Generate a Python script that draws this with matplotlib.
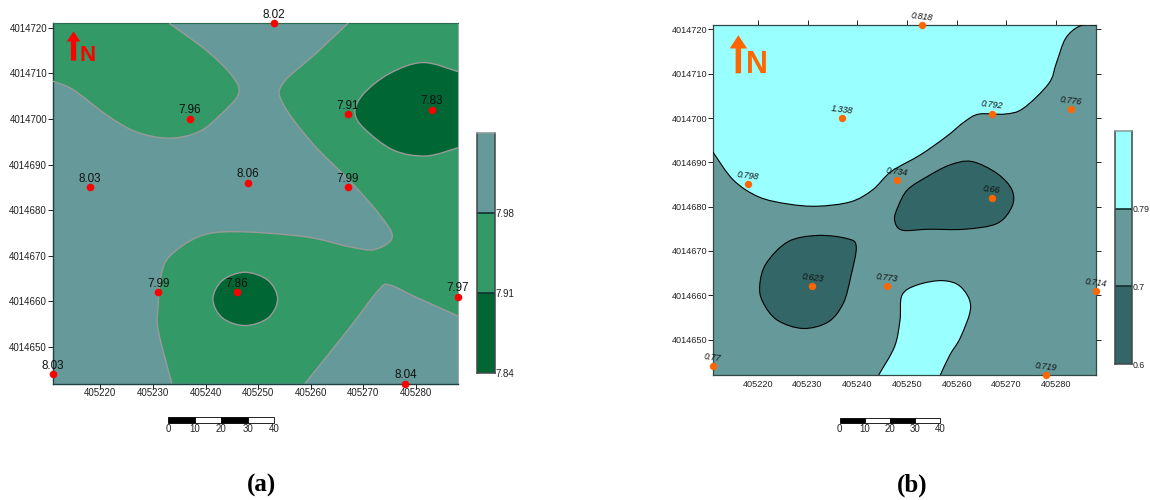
import matplotlib
matplotlib.use("Agg")
import matplotlib.pyplot as plt
import numpy as np
from matplotlib.path import Path
from matplotlib.patches import PathPatch, FancyArrow

plt.rcParams['font.family'] = ['Liberation Sans', 'DejaVu Sans']

X0, Y0 = 405000, 4014000
XLIM = (211, 288)
YLIM = (642, 721)
x_ticks = [405220, 405230, 405240, 405250, 405260, 405270, 405280]
y_ticks = [4014650, 4014660, 4014670, 4014680, 4014690, 4014700, 4014710, 4014720]

# sample points
a_x = [218, 237, 248, 253, 267, 267, 283, 231, 246, 288, 211, 278]
a_y = [685, 700, 686, 721, 701, 685, 702, 662, 662, 661, 644, 642]
a_labels = ['8.03', '7.96', '8.06', '8.02', '7.91', '7.99', '7.83', '7.99', '7.86', '7.97', '8.03', '8.04']

b_x = [218, 237, 248, 253, 267, 267, 283, 231, 246, 288, 211, 278]
b_y = [685, 700, 686, 721, 701, 682, 702, 662, 662, 661, 644, 642]
b_labels = ['0.798', '1.338', '0.734', '0.818', '0.792', '0.66', '0.776', '0.623', '0.773', '0.714', '0.77', '0.719']

# contour boundaries (offset from X0, Y0)
a_g1 = [(211, 708.3), (214.9, 706.4), (221.2, 700.9), (226.8, 697.2), (233.1, 695.8), (238.7, 697.2),
        (242.8, 700.9), (246.3, 705.6), (244.9, 709.7), (240.1, 715.1), (233.1, 721)]
a_g1_corners = [(211, 721)]
a_g2_top = [(267.1, 721), (261, 714.4), (254.7, 707.8), (254.7, 703.4), (260.3, 694.7), (267.3, 686.6),
            (272.9, 679.3), (275.5, 674.2), (272.2, 671.4), (267.3, 672), (258.9, 674.2), (245.6, 675.3),
            (238.7, 674.2), (233.1, 669.8), (231.5, 665.4), (231, 659.2), (231, 653.7), (233.6, 642)]
a_g2_low = [(258.9, 642), (267.3, 654.1), (272.9, 662.5), (275, 663.6), (279.9, 661), (288, 656.8)]
a_g2_corners = [(288, 721)]
a_d1 = [(288, 710.4), (281.3, 712.4), (275, 710), (270.1, 705.6), (268.4, 701.6), (270.1, 698),
        (275.7, 693.2), (281.9, 691.9), (288, 693.7)]
a_d2 = [(253.7, 660.5), (251.9, 664.6), (247.5, 666.4), (243.2, 664.6), (241.4, 660.5), (243.2, 656.4),
        (247.5, 654.7), (251.9, 656.4)]

b_c1 = [(211, 692.3), (215.1, 686), (220.2, 682.2), (226.1, 680.6), (232, 680.1), (238.7, 681.1),
        (243.1, 683.8), (246.8, 687.9), (252.7, 691.7), (257.9, 695.8), (261.6, 699.2), (264.5, 700.9),
        (269.7, 700.9), (273.4, 702.2), (278.5, 707.8), (280, 712.3), (281.9, 718), (284.8, 720.8), (288, 721)]
b_c1_corners = [(211, 721)]
b_c2 = [(244.3, 642), (247.5, 648.4), (248.6, 654.4), (249, 660), (252, 662.3), (257.1, 663.3),
        (260.8, 661.9), (262.8, 657.4), (260.8, 650.6), (258.6, 646.5), (256.7, 642)]
b_d1 = [(247.5, 677), (248.2, 680), (250.1, 683.8), (254.1, 686.8), (258.6, 689.4), (263, 690.2),
        (268.1, 687.5), (271.1, 683.8), (271.1, 680), (268.1, 676.2), (261.6, 674.9), (254.3, 674.9),
        (249, 674.7)]
b_d2 = [(220.4, 662.3), (221.7, 667.2), (226.1, 672.1), (232, 673.5), (237.9, 672.8), (239.8, 671),
        (238.7, 664.2), (237.2, 658.2), (234.2, 654), (229.1, 652.5), (223.9, 654.4), (221, 658.5)]

# colour-bar levels
a_cb_labels = ['7.84', '7.91', '7.98']
a_cb_colors = ['#006633', '#339966', '#669999']
b_cb_labels = ['0.6', '0.7', '0.79']
b_cb_colors = ['#336666', '#669999', '#99FFFF']
scale_ticks = [0, 10, 20, 30, 40]

W, H = 1150, 500
fig = plt.figure(figsize=(W / 100, H / 100), dpi=100)


def box(l, t, r, b):
    return fig.add_axes([l / W, 1 - b / H, (r - l) / W, (b - t) / H])


def bezier(pts, closed=False):
    """Catmull-Rom through pts, as cubic Bezier vertices (without the first point)."""
    p = np.array(pts, float)
    n = len(p)
    out = []
    segs = n if closed else n - 1
    for i in range(segs):
        if closed:
            p0, p1, p2, p3 = p[(i - 1) % n], p[i], p[(i + 1) % n], p[(i + 2) % n]
        else:
            p0, p1, p2, p3 = p[max(i - 1, 0)], p[i], p[i + 1], p[min(i + 2, n - 1)]
        out += [p1 + (p2 - p0) / 6, p2 - (p3 - p1) / 6, p2]
    return out


def offset(pts):
    return [(x + X0, y + Y0) for x, y in pts]


def region(ax, curves, color, edge, lw, corners=(), closed=False):
    verts, codes = [], []
    for c in curves:
        c = offset(c)
        bz = bezier(c, closed)
        codes += [Path.LINETO if verts else Path.MOVETO] + [Path.CURVE4] * len(bz)
        verts += [c[0]] + bz
        line = PathPatch(Path([c[0]] + bz, [Path.MOVETO] + [Path.CURVE4] * len(bz)), fill=False,
                         edgecolor=edge, lw=lw, zorder=3)
        ax.add_patch(line)
    for c in offset(corners):
        verts.append(c)
        codes.append(Path.LINETO)
    verts.append(verts[0])
    codes.append(Path.CLOSEPOLY)
    ax.add_patch(PathPatch(Path(verts, codes), facecolor=color, edgecolor='none', lw=0, zorder=2))


def map_axes(ax, base, fs):
    ax.set_facecolor(base)
    ax.set_xlim(X0 + XLIM[0], X0 + XLIM[1])
    ax.set_ylim(Y0 + YLIM[0], Y0 + YLIM[1])
    ax.set_xticks(x_ticks)
    ax.set_yticks(y_ticks)
    ax.set_xticklabels([str(v) for v in x_ticks])
    ax.set_yticklabels([str(v) for v in y_ticks])
    ax.tick_params(axis='x', labelsize=fs, colors='#222222', length=3.6, width=0.7, pad=0)
    ax.tick_params(axis='y', labelsize=fs, colors='#222222', length=3.6, width=0.7, pad=0.7)


def colorbar(ax, labels, colors, fs):
    n = len(colors)
    ax.bar([0] * n, [1] * n, bottom=range(n), width=1, color=colors, edgecolor='none', zorder=1)
    ax.set_xlim(-0.5, 0.5)
    ax.set_ylim(0, n)
    ax.set_xticks([])
    ax.set_yticks(range(n))
    ax.set_yticklabels(labels)
    ax.yaxis.tick_right()
    ax.tick_params(axis='y', length=0, pad=1, labelsize=fs, colors='#222222')
    for v in range(1, n):
        ax.axhline(v, color='#103030', lw=1.2, zorder=2)
    for s in ax.spines.values():
        s.set_color('#404848')
        s.set_linewidth(1.1)
    ax.spines['top'].set_color('#889999')


def scalebar(ax):
    for i in range(len(scale_ticks) - 1):
        ax.barh(0, scale_ticks[i + 1] - scale_ticks[i], left=scale_ticks[i], height=1,
                color='black' if i % 2 == 0 else 'white', edgecolor='black', lw=0.6, clip_on=False)
    ax.set_xlim(scale_ticks[0], scale_ticks[-1])
    ax.set_ylim(-0.5, 0.5)
    ax.set_yticks([])
    ax.set_xticks(scale_ticks)
    ax.set_xticklabels([str(v) for v in scale_ticks])
    ax.tick_params(axis='x', length=0, pad=0.5, labelsize=7, colors='#222222')
    for s in ax.spines.values():
        s.set_visible(False)


def north(ax, x, tip, base, shaft, head_w, head_l, nx, size, color):
    ax.add_patch(FancyArrow(X0 + x, Y0 + base, 0, tip - base, width=shaft, head_width=head_w, head_length=head_l,
                            length_includes_head=True, color=color, lw=0, zorder=5))
    ax.text(X0 + nx, Y0 + base, 'N', color=color, fontsize=size, fontweight='bold', ha='left', va='baseline', zorder=5)


# ---------- panel (a)
axa = box(53, 23.3, 458, 383.5)
map_axes(axa, a_cb_colors[2], 7)
region(axa, [a_g1], a_cb_colors[1], '#999999', 1.0, a_g1_corners)
region(axa, [a_g2_top, a_g2_low], a_cb_colors[1], '#999999', 1.0, a_g2_corners)
region(axa, [a_d1], a_cb_colors[0], '#999999', 1.0)
region(axa, [a_d2], a_cb_colors[0], '#999999', 1.0, closed=True)
axa.scatter([X0 + v for v in a_x], [Y0 + v for v in a_y], s=30, color='#FF0000', zorder=6, clip_on=False, lw=0)
for x, y, t in zip(a_x, a_y, a_labels):
    axa.annotate(t, (X0 + x, Y0 + y), xytext=(0, 2), textcoords='offset points', ha='center', va='bottom',
                 fontsize=8.4, color='#111111', zorder=7, annotation_clip=False)
north(axa, 214.9, 719.2, 712.8, 1.0, 2.6, 2.2, 216, 16, '#FF0000')
axa.tick_params(top=False, right=False)
axa.spines['left'].set_color('#204040')
axa.spines['left'].set_linewidth(1.0)
axa.spines['bottom'].set_color('#204040')
axa.spines['bottom'].set_linewidth(1.0)
axa.spines['top'].set_color('#2c6c50')
axa.spines['right'].set_color('#99aaaa')

colorbar(box(477, 133, 494.5, 373), a_cb_labels, a_cb_colors, 7)
scalebar(box(168.4, 417, 274, 423))
fig.text(262 / W, 1 - 485 / H, '(a)', family='Liberation Serif', fontweight='bold', fontsize=18, ha='center', va='center')

# ---------- panel (b)
axb = box(713, 25, 1096, 375)
map_axes(axb, b_cb_colors[1], 6.6)
region(axb, [b_c1], b_cb_colors[2], 'black', 0.8, b_c1_corners)
region(axb, [b_c2], b_cb_colors[2], 'black', 0.8)
region(axb, [b_d1], b_cb_colors[0], 'black', 0.8, closed=True)
region(axb, [b_d2], b_cb_colors[0], 'black', 0.8, closed=True)
axb.scatter([X0 + v for v in b_x], [Y0 + v for v in b_y], s=28, color='#FF6600', zorder=6, clip_on=False, lw=0)
for x, y, t in zip(b_x, b_y, b_labels):
    axb.annotate(t, (X0 + x, Y0 + y), xytext=(-0.5, 2.8), textcoords='offset points', ha='center', va='bottom',
                 fontsize=6.4, fontstyle='italic', rotation=-7, rotation_mode='anchor', color='#111111',
                 zorder=7, annotation_clip=False)
north(axb, 216.1, 718.7, 710.1, 1.1, 3.5, 3.0, 217.6, 22, '#FF6600')
axb.tick_params(axis='x', bottom=False, top=True, labelbottom=True)
axb.tick_params(axis='y', left=True, right=True)
for s in axb.spines.values():
    s.set_color('#304848')
    s.set_linewidth(0.9)

colorbar(box(1115, 131, 1131.6, 364), b_cb_labels, b_cb_colors, 6.3)
scalebar(box(839.7, 418, 939.7, 423))
fig.text(912 / W, 1 - 485 / H, '(b)', family='Liberation Serif', fontweight='bold', fontsize=18, ha='center', va='center')

fig.savefig('out.png', dpi=100)
